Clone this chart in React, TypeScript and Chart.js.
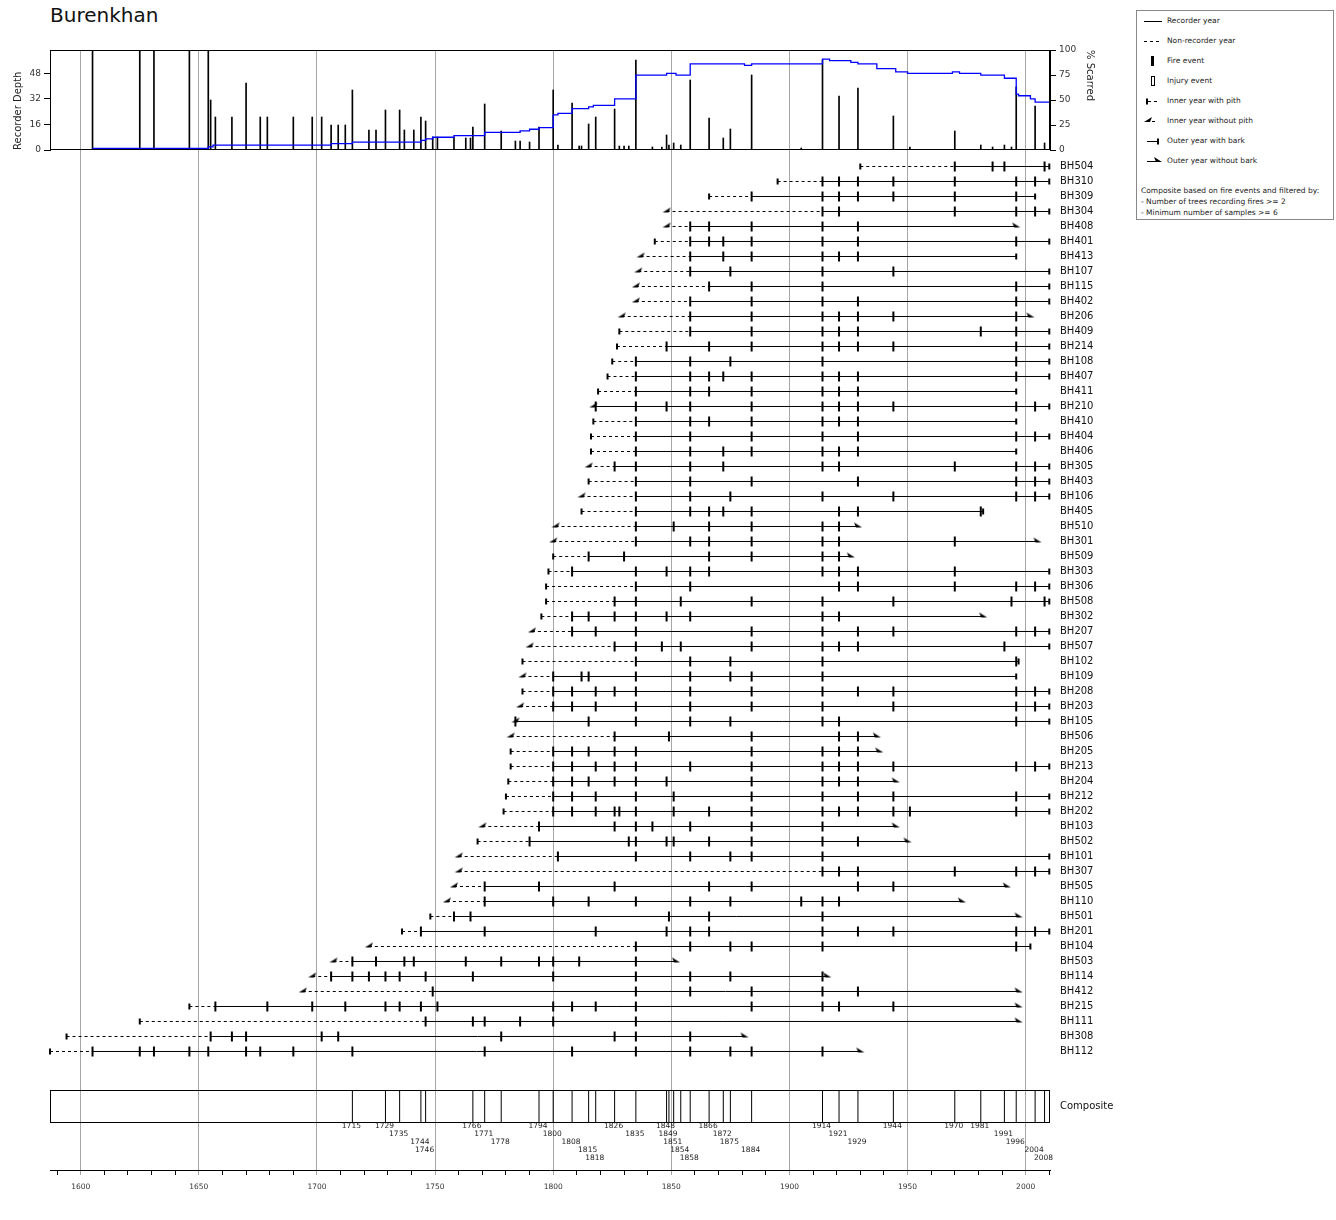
import { useEffect, useRef } from "react";
import { Chart, registerables } from "chart.js";

Chart.register(...registerables);

const FONT = "'DejaVu Sans', Verdana, sans-serif";
Chart.defaults.font.family = FONT;

const GRID = "#a6a6a6";
const YEAR_MIN = 1587;
const YEAR_MAX = 2010.3;

// samples, top row first
const sampleNames = [
  "BH504", "BH310", "BH309", "BH304", "BH408", "BH401", "BH413", "BH107", "BH115", "BH402",
  "BH206", "BH409", "BH214", "BH108", "BH407", "BH411", "BH210", "BH410", "BH404", "BH406",
  "BH305", "BH403", "BH106", "BH405", "BH510", "BH301", "BH509", "BH303", "BH306", "BH508",
  "BH302", "BH207", "BH507", "BH102", "BH109", "BH208", "BH203", "BH105", "BH506", "BH205",
  "BH213", "BH204", "BH212", "BH202", "BH103", "BH502", "BH101", "BH307", "BH505", "BH110",
  "BH501", "BH201", "BH104", "BH503", "BH114", "BH412", "BH215", "BH111", "BH308", "BH112",
];
const innerYears = [
  1930, 1895, 1866, 1848, 1848, 1843, 1837, 1836, 1835, 1835,
  1829, 1828, 1827, 1825, 1823, 1819, 1817, 1817, 1816, 1816,
  1815, 1815, 1812, 1812, 1801, 1800, 1800, 1798, 1797, 1797,
  1795, 1791, 1790, 1787, 1787, 1787, 1786, 1784, 1782, 1782,
  1782, 1781, 1780, 1779, 1770, 1768, 1760, 1760, 1758, 1755,
  1748, 1736, 1722, 1707, 1698, 1694, 1646, 1625, 1594, 1587,
];
// 1 = pith present
const hasPith = [
  1, 1, 1, 0, 0, 1, 0, 0, 0, 0,
  0, 1, 1, 1, 1, 1, 0, 1, 1, 1,
  0, 1, 0, 1, 0, 0, 1, 1, 1, 1,
  1, 0, 0, 1, 0, 1, 0, 0, 0, 1,
  1, 1, 1, 1, 0, 1, 0, 0, 0, 0,
  1, 1, 0, 0, 0, 0, 1, 1, 1, 1,
];
const recorderFrom = [
  1970, 1914, 1884, 1914, 1858, 1858, 1858, 1858, 1866, 1858,
  1858, 1858, 1848, 1835, 1835, 1835, 1818, 1835, 1835, 1835,
  1826, 1835, 1835, 1835, 1835, 1835, 1815, 1808, 1835, 1826,
  1808, 1808, 1826, 1835, 1800, 1800, 1800, 1784, 1826, 1800,
  1800, 1800, 1800, 1800, 1794, 1790, 1802, 1914, 1771, 1771,
  1758, 1744, 1835, 1715, 1706, 1749, 1657, 1746, 1655, 1605,
];
const outerYears = [
  2010, 2010, 2004, 2010, 1996, 2010, 1996, 2010, 2010, 2010,
  2002, 2010, 2010, 2010, 2010, 1996, 2010, 1996, 2010, 1996,
  2010, 2010, 2010, 1982, 1929, 2005, 1926, 2010, 2010, 2010,
  1982, 2010, 2010, 1997, 1996, 2010, 2010, 2010, 1937, 1938,
  2010, 1945, 2010, 2010, 1945, 1950, 2010, 2010, 1992, 1973,
  1997, 2010, 2002, 1852, 1916, 1997, 1997, 1997, 1881, 1930,
];
// 1 = bark present
const hasBark = [
  1, 1, 1, 1, 0, 1, 1, 1, 1, 1,
  0, 1, 1, 1, 1, 1, 1, 1, 1, 1,
  1, 1, 1, 1, 0, 0, 0, 1, 1, 1,
  0, 1, 1, 1, 1, 1, 1, 1, 0, 0,
  1, 0, 1, 1, 0, 0, 1, 1, 0, 0,
  0, 1, 1, 0, 0, 0, 0, 0, 0, 0,
];
const fireYears = [
  [1970, 1986, 1991, 2008],
  [1914, 1921, 1929, 1944, 1970, 1996, 2004],
  [1884, 1914, 1921, 1929, 1944, 1970, 1996],
  [1914, 1921, 1970, 1996, 2004],
  [1858, 1866, 1884, 1914, 1929],
  [1858, 1866, 1872, 1884, 1914, 1929, 1996],
  [1858, 1872, 1884, 1914, 1921, 1929],
  [1858, 1875, 1914, 1944],
  [1866, 1884, 1914, 1996],
  [1858, 1884, 1914, 1929, 1996],
  [1858, 1884, 1914, 1921, 1929, 1944, 1996],
  [1858, 1884, 1914, 1921, 1929, 1981, 1996],
  [1848, 1866, 1884, 1914, 1921, 1929, 1944, 1996],
  [1835, 1858, 1875, 1914, 1996],
  [1835, 1858, 1866, 1872, 1884, 1914, 1921, 1929, 1996],
  [1835, 1858, 1866, 1884, 1914, 1921, 1929],
  [1818, 1835, 1848, 1858, 1884, 1914, 1921, 1929, 1944, 1996, 2004],
  [1835, 1858, 1866, 1884, 1914, 1921, 1929],
  [1835, 1858, 1884, 1914, 1929, 1996, 2004],
  [1835, 1858, 1872, 1884, 1914, 1921, 1929],
  [1826, 1835, 1858, 1872, 1914, 1921, 1970, 1996, 2004],
  [1835, 1858, 1884, 1929, 1996, 2004],
  [1835, 1858, 1875, 1914, 1944, 1996, 2004],
  [1835, 1858, 1866, 1872, 1884, 1921, 1929, 1981],
  [1835, 1851, 1866, 1884, 1914, 1921],
  [1835, 1858, 1866, 1884, 1914, 1921, 1970],
  [1815, 1830, 1866, 1884, 1914, 1921],
  [1808, 1835, 1848, 1858, 1866, 1914, 1921, 1929, 1970],
  [1835, 1858, 1921, 1929, 1970, 1996, 2004],
  [1826, 1835, 1854, 1884, 1914, 1944, 1994, 2008],
  [1808, 1815, 1826, 1835, 1848, 1858, 1914, 1921],
  [1808, 1818, 1835, 1884, 1914, 1929, 1944, 1996, 2004],
  [1826, 1835, 1846, 1854, 1884, 1914, 1921, 1929, 1991],
  [1835, 1858, 1875, 1914, 1996],
  [1800, 1812, 1815, 1835, 1858, 1875, 1884, 1914],
  [1800, 1808, 1818, 1826, 1835, 1858, 1884, 1914, 1929, 1944, 1996, 2004],
  [1800, 1808, 1818, 1835, 1858, 1884, 1914, 1944, 1996, 2004],
  [1784, 1815, 1835, 1858, 1875, 1914, 1921, 1996],
  [1826, 1849, 1884, 1921, 1929],
  [1800, 1808, 1815, 1826, 1835, 1884, 1914, 1921, 1929],
  [1800, 1808, 1818, 1826, 1835, 1858, 1884, 1914, 1921, 1929, 1944, 1996, 2004],
  [1800, 1808, 1815, 1826, 1835, 1848, 1884, 1914, 1921, 1929],
  [1800, 1808, 1818, 1835, 1851, 1884, 1914, 1929, 1944, 1996],
  [1800, 1808, 1818, 1826, 1828, 1835, 1851, 1866, 1884, 1914, 1921, 1929, 1944, 1951, 1996],
  [1794, 1826, 1835, 1842, 1858, 1884, 1914],
  [1790, 1832, 1835, 1848, 1851, 1866, 1884, 1914, 1929],
  [1802, 1835, 1858, 1875, 1884, 1914],
  [1914, 1921, 1929, 1970, 1996, 2004],
  [1771, 1794, 1826, 1866, 1884, 1929, 1944],
  [1771, 1800, 1815, 1835, 1858, 1875, 1905, 1914, 1921],
  [1758, 1765, 1849, 1866, 1914],
  [1744, 1771, 1818, 1848, 1858, 1866, 1914, 1929, 1944, 1996, 2004],
  [1835, 1858, 1875, 1884, 1914, 1996],
  [1715, 1725, 1737, 1741, 1763, 1778, 1794, 1800, 1811, 1835],
  [1706, 1715, 1722, 1729, 1735, 1746, 1766, 1800, 1835, 1858, 1875, 1914],
  [1749, 1835, 1858, 1884, 1914, 1929],
  [1657, 1679, 1698, 1712, 1729, 1735, 1744, 1751, 1800, 1808, 1818, 1835, 1884, 1914, 1921, 1944],
  [1746, 1766, 1771, 1786, 1800, 1835],
  [1655, 1664, 1670, 1702, 1709, 1778, 1826, 1835, 1858],
  [1605, 1625, 1631, 1646, 1654, 1670, 1676, 1690, 1715, 1771, 1808, 1835, 1858, 1875, 1884, 1914],
];

// top panel
const scarYears = [
  1605, 1625, 1631, 1646, 1654, 1655, 1657, 1664, 1670, 1676, 1679, 1690, 1698, 1702, 1706,
  1709, 1712, 1715, 1722, 1725, 1729, 1735, 1737, 1741, 1744, 1746, 1749, 1751, 1758, 1763,
  1765, 1766, 1771, 1778, 1784, 1786, 1790, 1794, 1800, 1802, 1808, 1811, 1812, 1815, 1818,
  1826, 1828, 1830, 1832, 1835, 1842, 1846, 1848, 1849, 1851, 1854, 1858, 1866, 1872, 1875,
  1884, 1905, 1914, 1921, 1929, 1944, 1951, 1970, 1981, 1986, 1991, 1994, 1996, 2004, 2008,
];
const scarPercent = [
  100, 100, 100, 100, 100, 50, 33, 33, 67, 33, 33, 33, 33, 33, 25,
  25, 25, 60, 20, 20, 40, 40, 20, 20, 33, 29, 13, 13, 13, 12,
  12, 23, 46, 19, 9, 9, 8, 23, 60, 5, 47, 4, 4, 26, 33,
  41, 4, 4, 4, 90, 3, 3, 15, 5, 7, 5, 70, 32, 12, 21,
  75, 2, 90, 54, 62, 34, 3, 19, 5, 3, 5, 3, 63, 44, 7,
];
const depthYears = [
  1605, 1654, 1656, 1706, 1715, 1744, 1746, 1749, 1758, 1771, 1786, 1790, 1794, 1800, 1802,
  1808, 1815, 1817, 1826, 1835, 1848, 1852, 1858, 1881, 1884, 1914, 1917, 1926, 1929, 1937,
  1945, 1950, 1969, 1972, 1981, 1991, 1996, 1997, 2002, 2004, 2010,
];
const depthCounts = [
  1, 2, 3, 4, 5, 6, 7, 8, 9, 11, 12, 13, 14, 22, 23,
  26, 27, 28, 32, 47, 48, 47, 54, 53, 54, 57, 56, 55, 54, 51,
  49, 48, 49, 48, 47, 45, 35, 34, 32, 30, 30,
];
const depthTicks = [0, 16, 32, 48];
const percentTicks = [0, 25, 50, 75, 100];

const compositeYears = [
  1715, 1729, 1735, 1744, 1746, 1766, 1771, 1778, 1794, 1800, 1808, 1815, 1818, 1826, 1835,
  1848, 1849, 1851, 1854, 1858, 1866, 1872, 1875, 1884, 1914, 1921, 1929, 1944, 1970, 1981,
  1991, 1996, 2004, 2008,
];

const legendItems = [
  ["rec", "Recorder year"],
  ["nonrec", "Non-recorder year"],
  ["fire", "Fire event"],
  ["injury", "Injury event"],
  ["pith", "Inner year with pith"],
  ["nopith", "Inner year without pith"],
  ["bark", "Outer year with bark"],
  ["nobark", "Outer year without bark"],
];
const filterNotes = [
  "Composite based on fire events and filtered by:",
  "- Number of trees recording fires >= 2",
  "- Minimum number of samples >= 6",
];

function wedge(outer: boolean): HTMLCanvasElement {
  const c = document.createElement("canvas");
  c.width = 14;
  c.height = 12;
  const g = c.getContext("2d")!;
  const s = outer ? -1 : 1;
  g.fillStyle = "#000";
  g.beginPath();
  g.moveTo(7 - 4 * s, 7);
  g.lineTo(7 + 4 * s, 2);
  g.lineTo(7 + 2 * s, 7);
  g.closePath();
  g.fill();
  return c;
}

function fiftyTicks(s: any) {
  s.ticks = [];
  for (let v = 1600; v <= 2000; v += 50) s.ticks.push({ value: v });
}

function hiddenX() {
  return {
    type: "linear" as const,
    min: YEAR_MIN,
    max: YEAR_MAX,
    offset: false,
    afterBuildTicks: fiftyTicks,
    afterFit: (s: any) => {
      s.height = 0;
      s.paddingLeft = 0;
      s.paddingRight = 0;
    },
    ticks: { display: false },
    border: { display: false },
    grid: { color: GRID, drawTicks: false, offset: false },
  };
}

const framePlugin = {
  id: "frame",
  afterDatasetsDraw(chart: any) {
    const { ctx, chartArea: a } = chart;
    ctx.save();
    ctx.strokeStyle = "#000";
    ctx.lineWidth = 1;
    ctx.strokeRect(Math.round(a.left) + 0.5, Math.round(a.top) + 0.5, Math.round(a.width) - 1, Math.round(a.height) - 1);
    ctx.restore();
  },
};

// sample names to the right of each row
const rowLabelPlugin = {
  id: "rowLabels",
  afterDatasetsDraw(chart: any) {
    const { ctx, chartArea, scales } = chart;
    ctx.save();
    ctx.font = `10px ${FONT}`;
    ctx.fillStyle = "#111";
    ctx.textAlign = "left";
    ctx.textBaseline = "middle";
    sampleNames.forEach((name, i) => {
      ctx.fillText(name, chartArea.right + 10, scales.y.getPixelForValue(i));
    });
    ctx.restore();
  },
};

const compositePlugin = {
  id: "compositeBox",
  afterDatasetsDraw(chart: any) {
    const { ctx, scales, chartArea } = chart;
    const x = scales.x;
    const y = scales.comp;
    const top = Math.round(y.getPixelForValue(1));
    const bottom = Math.round(y.getPixelForValue(0));
    ctx.save();
    ctx.strokeStyle = "#000";
    ctx.lineWidth = 1;
    ctx.strokeRect(Math.round(x.left) + 0.5, top + 0.5, Math.round(x.width) - 1, bottom - top);
    ctx.font = `10px ${FONT}`;
    ctx.fillStyle = "#111";
    ctx.textAlign = "left";
    ctx.textBaseline = "middle";
    ctx.fillText("Composite", chartArea.right + 10, y.getPixelForValue(0.5));
    ctx.font = `7.5px ${FONT}`;
    ctx.fillStyle = "#222";
    ctx.textAlign = "center";
    let row = 0;
    compositeYears.forEach((yr, i) => {
      row = i > 0 && yr - compositeYears[i - 1] <= 10 ? (row + 1) % 5 : 0;
      ctx.fillText(String(yr), x.getPixelForValue(yr) - 1, bottom + 4 + row * 8);
    });
    ctx.restore();
  },
};

function LegendSymbol({ kind }: { kind: string }) {
  const nopith = "1,7 9,2 7,7";
  const nobark = "19,7 11,2 13,7";
  return (
    <svg width={20} height={12} style={{ position: "absolute", left: 0, top: -1 }}>
      {kind === "rec" && <line x1={1} y1={6.5} x2={19} y2={6.5} stroke="#000" />}
      {kind === "nonrec" && <line x1={1} y1={6.5} x2={19} y2={6.5} stroke="#000" strokeDasharray="3 3" />}
      {kind === "fire" && <rect x={8} y={1} width={3} height={10} fill="#000" />}
      {kind === "injury" && <rect x={8.5} y={1.5} width={3} height={9} fill="none" stroke="#000" />}
      {kind === "pith" && (
        <>
          <line x1={4} y1={3.5} x2={4} y2={9.5} stroke="#000" strokeWidth={2} />
          <line x1={5} y1={6.5} x2={15} y2={6.5} stroke="#000" strokeDasharray="3 3" />
        </>
      )}
      {kind === "nopith" && (
        <>
          <polygon points={nopith} fill="#000" />
          <line x1={9} y1={6.5} x2={15} y2={6.5} stroke="#000" strokeDasharray="3 3" />
        </>
      )}
      {kind === "bark" && (
        <>
          <line x1={4} y1={6.5} x2={15} y2={6.5} stroke="#000" />
          <line x1={15} y1={3.5} x2={15} y2={9.5} stroke="#000" strokeWidth={2} />
        </>
      )}
      {kind === "nobark" && (
        <>
          <line x1={4} y1={6.5} x2={14} y2={6.5} stroke="#000" />
          <polygon points={nobark} fill="#000" />
        </>
      )}
    </svg>
  );
}

function Legend() {
  return (
    <div
      style={{
        position: "absolute",
        left: 1136,
        top: 10,
        width: 198,
        height: 210,
        border: "1px solid #888",
        boxSizing: "border-box",
        fontFamily: FONT,
        fontSize: 7.5,
        color: "#222",
        background: "#fff",
      }}
    >
      {legendItems.map(([kind, label], k) => (
        <div key={kind} style={{ position: "absolute", left: 6, top: 5 + 20 * k, height: 12, width: 190 }}>
          <LegendSymbol kind={kind} />
          <span style={{ position: "absolute", left: 24, top: 0, lineHeight: "10px", whiteSpace: "nowrap" }}>{label}</span>
        </div>
      ))}
      {filterNotes.map((t, k) => (
        <div key={t} style={{ position: "absolute", left: 4, top: 175 + 11 * k, lineHeight: "10px", whiteSpace: "nowrap" }}>
          {t}
        </div>
      ))}
    </div>
  );
}

export default function App() {
  const topRef = useRef<HTMLCanvasElement>(null);
  const sampleRef = useRef<HTMLCanvasElement>(null);
  const compRef = useRef<HTMLCanvasElement>(null);

  useEffect(() => {
    if (!topRef.current || !sampleRef.current || !compRef.current) return;
    const tickFont = { family: FONT, size: 9 };
    const charts: Chart[] = [];

    // recorder depth and % scarred
    charts.push(
      new Chart(topRef.current, {
        type: "bar",
        data: {
          datasets: [
            {
              type: "line",
              data: depthYears.map((x, i) => ({ x, y: depthCounts[i] })),
              yAxisID: "depth",
              stepped: true,
              borderColor: "#0000ff",
              borderWidth: 1.3,
              pointRadius: 0,
              order: 0,
            } as any,
            {
              type: "bar",
              data: scarYears.map((x, i) => ({ x, y: scarPercent[i] })),
              yAxisID: "pct",
              backgroundColor: "#000",
              barThickness: 1,
              order: 1,
            } as any,
          ],
        },
        options: {
          animation: false,
          responsive: false,
          events: [],
          layout: { padding: { top: 50, bottom: 10 } },
          plugins: { legend: { display: false }, tooltip: { enabled: false } },
          scales: {
            x: hiddenX(),
            depth: {
              type: "linear",
              position: "left",
              min: 0,
              max: 62.7,
              afterBuildTicks: (s: any) => {
                s.ticks = depthTicks.map((value) => ({ value }));
              },
              afterFit: (s: any) => {
                s.width = 50;
              },
              ticks: { font: tickFont, color: "#333", padding: 3 },
              grid: { drawOnChartArea: false, tickLength: 6, color: "#000" },
              border: { color: "#000" },
              title: {
                display: true,
                text: "Recorder Depth",
                align: "start",
                font: { family: FONT, size: 10 },
                color: "#222",
                padding: { top: 12, bottom: 0 },
              },
            },
            pct: {
              type: "linear",
              position: "right",
              min: 0,
              max: 100,
              afterBuildTicks: (s: any) => {
                s.ticks = percentTicks.map((value) => ({ value }));
              },
              afterFit: (s: any) => {
                s.width = 60;
              },
              ticks: { font: tickFont, color: "#333", padding: 3 },
              grid: { drawOnChartArea: false, tickLength: 6, color: "#000" },
              border: { color: "#000" },
              title: {
                display: true,
                text: "% Scarred",
                align: "end",
                font: { family: FONT, size: 10 },
                color: "#222",
                padding: { top: 14, bottom: 0 },
              },
            },
          } as any,
        },
        plugins: [framePlugin],
      })
    );

    // sample rows
    const solid: any[] = [];
    const dashed: any[] = [];
    const fires: any[] = [];
    const pith: any[] = [];
    const noPith: any[] = [];
    const bark: any[] = [];
    const noBark: any[] = [];
    sampleNames.forEach((_, i) => {
      solid.push({ x: recorderFrom[i], y: i }, { x: outerYears[i], y: i }, { x: outerYears[i], y: null });
      if (innerYears[i] < recorderFrom[i]) {
        dashed.push({ x: innerYears[i], y: i }, { x: recorderFrom[i], y: i }, { x: recorderFrom[i], y: null });
      }
      fireYears[i].forEach((yr) => fires.push({ x: yr, y: i }));
      (hasPith[i] ? pith : noPith).push({ x: innerYears[i], y: i });
      (hasBark[i] ? bark : noBark).push({ x: outerYears[i], y: i });
    });
    const tick = (data: any[], radius: number, width: number) => ({
      data,
      pointStyle: "line",
      rotation: 90,
      pointRadius: radius,
      borderWidth: width,
      borderColor: "#000",
      clip: false,
    });
    const img = (data: any[], style: HTMLCanvasElement) => ({
      data,
      pointStyle: style,
      pointRadius: 4,
      clip: false,
    });
    charts.push(
      new Chart(sampleRef.current, {
        type: "scatter",
        data: {
          datasets: [
            tick(fires, 5, 2),
            tick(pith, 3, 2),
            tick(bark, 3, 2),
            img(noPith, wedge(false)),
            img(noBark, wedge(true)),
            {
              data: solid,
              showLine: true,
              pointRadius: 0,
              borderColor: "#000",
              borderWidth: 1,
              clip: false,
            },
            {
              data: dashed,
              showLine: true,
              pointRadius: 0,
              borderColor: "#000",
              borderWidth: 1,
              borderDash: [3, 3],
              clip: false,
            },
          ] as any,
        },
        options: {
          animation: false,
          responsive: false,
          events: [],
          layout: { autoPadding: false, padding: { left: 50, right: 60 } },
          plugins: { legend: { display: false }, tooltip: { enabled: false } },
          scales: {
            x: hiddenX(),
            y: {
              type: "linear",
              display: false,
              reverse: true,
              min: -1.1,
              max: 59.9667,
            },
          } as any,
        },
        plugins: [rowLabelPlugin],
      })
    );

    // composite and year axis
    const compLines: any[] = [];
    compositeYears.forEach((yr) => compLines.push({ x: yr, y: 0 }, { x: yr, y: 1 }, { x: yr, y: null }));
    charts.push(
      new Chart(compRef.current, {
        type: "scatter",
        data: {
          datasets: [
            {
              data: compLines,
              yAxisID: "comp",
              showLine: true,
              pointRadius: 0,
              borderColor: "#000",
              borderWidth: 1,
            },
          ] as any,
        },
        options: {
          animation: false,
          responsive: false,
          events: [],
          layout: { autoPadding: false, padding: { left: 50, right: 70 } },
          plugins: { legend: { display: false }, tooltip: { enabled: false } },
          scales: {
            x: {
              type: "linear",
              min: YEAR_MIN,
              max: YEAR_MAX,
              offset: false,
              afterBuildTicks: (s: any) => {
                s.ticks = [];
                for (let v = 1590; v <= YEAR_MAX; v += 10) s.ticks.push({ value: v });
              },
              afterFit: (s: any) => {
                s.height = 50;
                s.paddingLeft = 0;
                s.paddingRight = 0;
              },
              ticks: {
                autoSkip: false,
                maxRotation: 0,
                callback: (v: any) => (v % 50 === 0 ? String(v) : ""),
                font: { family: FONT, size: 7.5 },
                color: "#333",
                padding: 8,
              },
              grid: {
                color: (c: any) => (c.tick && c.tick.value % 50 === 0 ? GRID : "rgba(0,0,0,0)"),
                tickColor: (c: any) => (c.tick && c.tick.value % 50 === 0 ? GRID : "#000"),
                tickLength: 5,
                offset: false,
              },
              border: { display: true, color: "#000", width: 1 },
            },
            comp: {
              type: "linear",
              display: false,
              min: -1.5,
              max: 1.75,
            },
          } as any,
        },
        plugins: [compositePlugin],
      })
    );

    return () => charts.forEach((c) => c.destroy());
  }, []);

  return (
    <div style={{ position: "absolute", left: 0, top: 0, width: 1336, height: 1220, background: "#fff" }}>
      <div
        style={{
          position: "absolute",
          left: 50,
          top: 5,
          fontFamily: FONT,
          fontSize: 20,
          lineHeight: "20px",
          color: "#111",
        }}
      >
        Burenkhan
      </div>
      <canvas ref={topRef} width={1110} height={160} style={{ position: "absolute", left: 0, top: 0 }} />
      <canvas ref={sampleRef} width={1110} height={916} style={{ position: "absolute", left: 0, top: 150 }} />
      <canvas ref={compRef} width={1120} height={154} style={{ position: "absolute", left: 0, top: 1066 }} />
      <Legend />
    </div>
  );
}
